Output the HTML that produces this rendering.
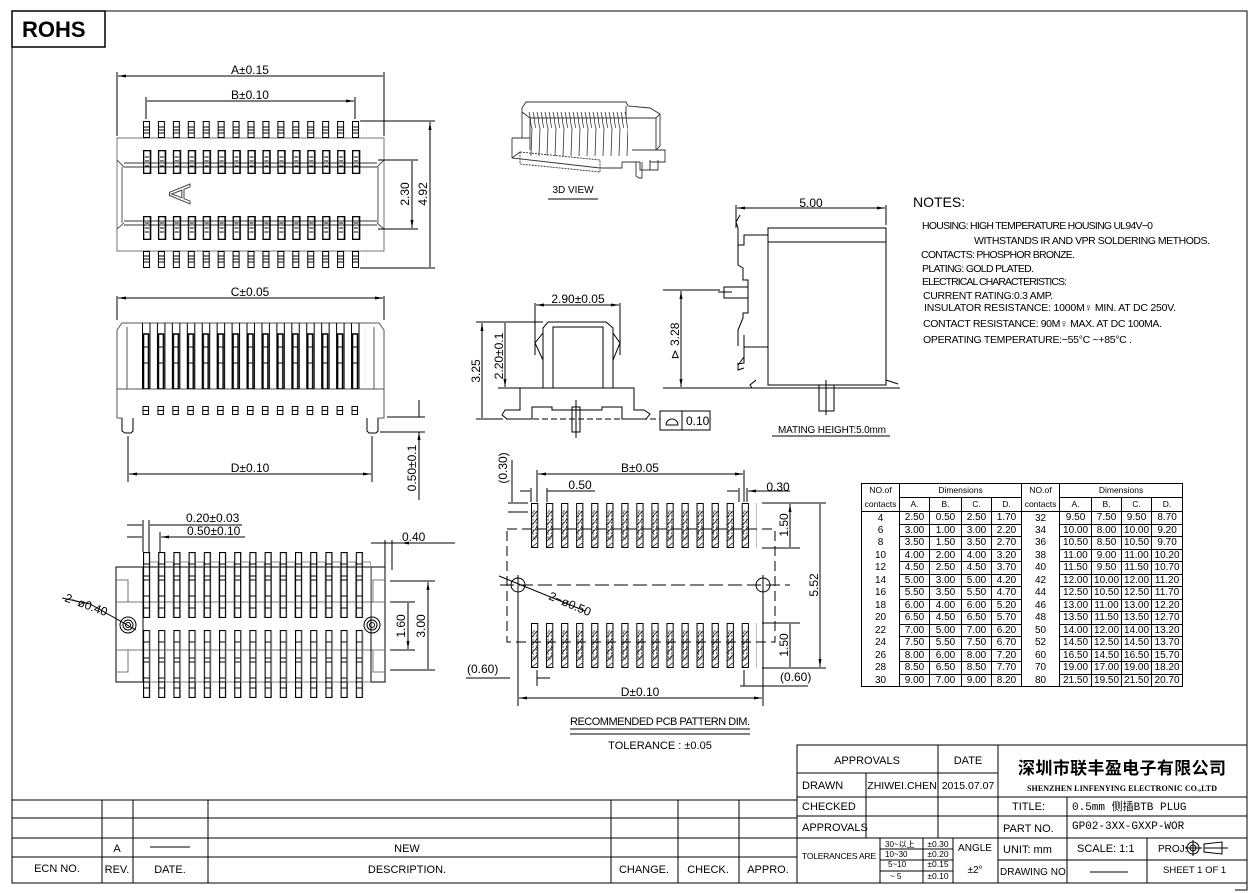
<!DOCTYPE html>
<html><head><meta charset="utf-8">
<style>
html,body{margin:0;padding:0;background:#fff;}
body{width:1253px;height:893px;position:relative;overflow:hidden;font-family:"Liberation Sans","Noto Sans CJK SC",sans-serif;}
svg{position:absolute;left:0;top:0;}
svg text{font-family:"Liberation Sans","Noto Sans CJK SC",sans-serif;fill:#000;}
table.dim{position:absolute;left:861px;top:483px;width:321px;border-collapse:collapse;table-layout:fixed;font-size:10px;font-family:"Liberation Sans",sans-serif;}
table.dim td{border:1px solid #000;padding:0;text-align:center;height:11.5px;line-height:11px;}
table.dim td.n{border-top:none;border-bottom:none;}
table.dim tr.h td{height:13px;font-size:8.5px;}
</style></head><body>
<svg width="1253" height="893" viewBox="0 0 1253 893" xmlns="http://www.w3.org/2000/svg" stroke-width="1">
<defs>
<pattern id="pA" x="143" y="121" width="14.93" height="17" patternUnits="userSpaceOnUse">
<rect x="0.5" y="0.5" width="6" height="16" fill="none" stroke="#000"/><path d="M1 6H6M1 9H6M1 12H6" stroke="#000"/></pattern>
<pattern id="pA2" x="143" y="251" width="14.93" height="17" patternUnits="userSpaceOnUse">
<rect x="0.5" y="0.5" width="6" height="16" fill="none" stroke="#000"/><path d="M1 5H6M1 8H6M1 11H6" stroke="#000"/></pattern>
<pattern id="pB" x="143" y="150" width="14.93" height="24" patternUnits="userSpaceOnUse">
<rect x="0.5" y="0.5" width="7" height="23" fill="none" stroke="#000" stroke-width="1.6"/><path d="M2 7H6M2 11H6M2 16H6" stroke="#000"/></pattern>
<pattern id="pB2" x="143" y="216" width="14.93" height="24" patternUnits="userSpaceOnUse">
<rect x="0.5" y="0.5" width="7" height="23" fill="none" stroke="#000" stroke-width="1.6"/><path d="M2 7H6M2 12H6M2 16H6" stroke="#000"/></pattern>
<pattern id="pC" x="142" y="323" width="14.93" height="66" patternUnits="userSpaceOnUse">
<path d="M0.5 0V66M8 0V66" stroke="#000"/><rect x="1.5" y="11" width="5" height="55" fill="none" stroke="#000" stroke-width="1.5"/><path d="M2 24H6M2 40H6" stroke="#000"/></pattern>
<pattern id="pD" x="142" y="406" width="14.93" height="10" patternUnits="userSpaceOnUse">
<rect x="1" y="0.5" width="5.5" height="8" fill="none" stroke="#000"/><path d="M1 4.5H7" stroke="#000"/></pattern>
<pattern id="pE" x="143" y="552" width="15.2" height="66" patternUnits="userSpaceOnUse">
<rect x="0.5" y="0.5" width="6" height="65" fill="none" stroke="#000" stroke-width="1.2"/><path d="M1 12H6M1 24H6M1 28H6M1 44H6M1 56H6" stroke="#000"/><path d="M7 10H15V66" fill="none" stroke="#888"/></pattern>
<pattern id="pE2" x="143" y="630" width="15.2" height="68" patternUnits="userSpaceOnUse">
<rect x="0.5" y="0.5" width="6" height="67" fill="none" stroke="#000" stroke-width="1.2"/><path d="M1 12H6M1 28H6M1 32H6M1 48H6M1 58H6" stroke="#000"/><path d="M7 0V52H15" fill="none" stroke="#888"/></pattern>
<pattern id="pF" x="531" y="503" width="15.05" height="45" patternUnits="userSpaceOnUse">
<rect x="0.5" y="0.5" width="6.2" height="44" fill="none" stroke="#000"/><rect x="2" y="8" width="3.2" height="28" fill="none" stroke="#000" stroke-dasharray="2,1.5" stroke-width=".7"/><path d="M1 14L6 8M1 22L6 16M1 30L6 24M1 38L6 32M1 44L6 40" stroke="#000" stroke-width=".7"/></pattern>
<pattern id="pF2" x="531" y="623" width="15.05" height="45" patternUnits="userSpaceOnUse">
<rect x="0.5" y="0.5" width="6.2" height="44" fill="none" stroke="#000"/><rect x="2" y="8" width="3.2" height="28" fill="none" stroke="#000" stroke-dasharray="2,1.5" stroke-width=".7"/><path d="M1 14L6 8M1 22L6 16M1 30L6 24M1 38L6 32M1 44L6 40" stroke="#000" stroke-width=".7"/></pattern>
<pattern id="p3d" x="528" y="110" width="8" height="50" patternUnits="userSpaceOnUse">
<path d="M1 2C3 8 2 14 4 18L3 46M5 2C7 8 6 14 8 18" fill="none" stroke="#333" stroke-width=".8"/></pattern>
<marker id="ar" markerWidth="8" markerHeight="6" refX="8" refY="3" orient="auto-start-reverse" markerUnits="userSpaceOnUse"><path d="M0 1.5L8 3L0 4.5z" fill="#000"/></marker>
</defs>
<g fill="none" stroke="#000">
<path d="M12 11H1247V883H12z"/>
<rect x="12" y="11" width="93" height="36" stroke-width="1.5"/>
<path d="M1235 890H1247V878" stroke-width="1"/>

<!-- TOP VIEW -->
<rect x="117" y="138" width="267" height="113" stroke="#777"/>
<path d="M122 167V223M378 167V223M117 160L124 167M384 160L377 167M117 229L124 223M384 229L377 223" stroke="#555"/>
<path d="M124 163H377M124 167H377M124 221H377M124 225H377" stroke="#333"/>
<rect x="143" y="121" width="224" height="17" fill="url(#pA)" stroke="none"/>
<rect x="143" y="251" width="224" height="17" fill="url(#pA2)" stroke="none"/>
<rect x="143" y="150" width="224" height="24" fill="url(#pB)" stroke="none"/>
<rect x="143" y="216" width="224" height="24" fill="url(#pB2)" stroke="none"/>
<path d="M117 72V136M384 72V136M146 97V119M355 97V119"/>
<path d="M118 76H383M147 101H354" marker-start="url(#ar)" marker-end="url(#ar)"/>
<path d="M360 121H435M360 268H435M378 160H418M378 229H418"/>
<path d="M430 122V267M412 161V228" marker-start="url(#ar)" marker-end="url(#ar)"/>

<!-- FRONT VIEW -->
<path d="M117 296V320M384 296V320"/>
<path d="M118 298H383" marker-start="url(#ar)" marker-end="url(#ar)"/>
<path d="M117 418V330L122 323H379L384 330V418H378M117 418H122M117 389H384M127 327V389M374 327V389" stroke="#555"/>
<rect x="142" y="323" width="224" height="66" fill="url(#pC)" stroke="none"/>
<rect x="142" y="406" width="224" height="10" fill="url(#pD)" stroke="none"/>
<path d="M122 418V431L125 433H131L133 431V418M367 418V431L369 433H376L378 431V418"/>
<path d="M128 436V482M372 436V482"/>
<path d="M129 474H371" marker-start="url(#ar)" marker-end="url(#ar)"/>
<path d="M387 417H425M380 432H425M419 400V415M419 500V434" />
<path d="M419 405V417M419 444V432" marker-end="url(#ar)"/>

<!-- BOTTOM VIEW -->
<rect x="116" y="567" width="269" height="115"/>
<path d="M116 580H128V602M116 672H128V650M385 580H373V602M385 672H373V650M116 602H385M116 650H385" stroke="#777"/>
<path d="M143 567V682M371 567V682"/>
<rect x="143" y="552" width="228" height="66" fill="url(#pE)" stroke="none"/>
<rect x="143" y="630" width="228" height="68" fill="url(#pE2)" stroke="none"/>
<circle cx="128" cy="625" r="8"/><circle cx="128" cy="625" r="5"/><circle cx="128" cy="625" r="2.5"/>
<circle cx="372" cy="625" r="8"/><circle cx="372" cy="625" r="5"/><circle cx="372" cy="625" r="2.5"/>
<path d="M62 598L90 604L136 630"/>
<path d="M143 520V552M149 520V552M143 532V552M160 532V552"/>
<path d="M127 525H142M164 525H150M127 537H142M175 537H161"  marker-end="url(#ar)"/>
<path d="M150 525H242M161 537H245"/>
<path d="M371 543H384M432 543H401" marker-end="url(#ar)"/>
<path d="M384 543H455M385 540V570M392 540V570"/>
<path d="M390 581H435M390 602H415M390 650H415M390 670H435"/>
<path d="M428 582V669M408 603V649" marker-start="url(#ar)" marker-end="url(#ar)"/>

<!-- SIDE VIEW (middle) -->
<path d="M535 303V355M620 303V355"/>
<path d="M536 305H619" marker-start="url(#ar)" marker-end="url(#ar)"/>
<path d="M543 388V328L548 322H606L613 328V388M553 388V327H603V388M543 333L535 343L543 360V388M613 333L620 343L613 360V388"/>
<path d="M520 388V410H505L502 415L507 419H532V407H552V410H602V407H622V419H646L650 414L644 410H634V388Z"/>
<path d="M520 388H543M613 388H634"/>
<rect x="572" y="407" width="8" height="25"/><path d="M576 400V438"/>
<path d="M497 419H660" stroke-dasharray="6,3"/>
<rect x="660" y="411" width="50" height="19"/><path d="M682 411V430M666 425H678M666 425A6 6 0 0 1 678 425"/>
<path d="M476 322H543M498 388H520M476 419H497"/>
<path d="M482 323V418M505 323V387" marker-start="url(#ar)" marker-end="url(#ar)"/>

<!-- RIGHT SIDE VIEW -->
<path d="M736 205V228M886 205V225"/>
<path d="M737 208H885" marker-start="url(#ar)" marker-end="url(#ar)"/>
<rect x="768" y="228" width="118" height="157"/>
<path d="M768 242H886"/>
<path d="M768 235H744V245H738V228L736 222L740 215M738 245V265L743 268V280H748V313H743V318L738 330V346M768 347H744V357L738 365V363M744 357V363L738 364L738 370L744 368M744 335V347"/>
<rect x="724" y="287" width="24" height="11"/><path d="M748 282V300M718 292H732"/>
<path d="M720 388H900M756 380L750 385L752 388M886 380L898 384"/>
<rect x="819" y="385" width="15" height="26"/><path d="M826 380V415"/>
<path d="M663 290H720M663 388H720"/>
<path d="M681 291V387" marker-start="url(#ar)" marker-end="url(#ar)"/>
<path d="M772 436H890"/>

<!-- 3D VIEW -->
<g stroke="#333" stroke-width="0.9">
<path d="M522 108L526 102H626L628 106L650 108L660 114L656 118H530L522 112Z"/>
<path d="M522 112V138M530 118V150M626 106V118M656 118V150H632M660 114V146L656 150"/>
<rect x="528" y="112" width="100" height="44" fill="url(#p3d)" stroke="none"/>
<path d="M512 138H530M632 150H665V162H650V170H640V162H622M512 138V158L600 168H622V162M512 158L520 152"/>
<path d="M520 152L600 160V172L520 164Z" stroke-dasharray="2,1"/>
<path d="M636 162V176L639 178H642V162M650 160V170H658V160"/>
</g>
<path d="M548 199H598"/>

<!-- PCB PATTERN -->
<rect x="507" y="529" width="268" height="113" stroke-dasharray="10,5"/>
<path d="M500 585H790" stroke-dasharray="14,5"/>
<rect x="531" y="503" width="226" height="45" fill="url(#pF)" stroke="none"/>
<rect x="531" y="623" width="226" height="45" fill="url(#pF2)" stroke="none"/>
<circle cx="518" cy="585" r="7"/><circle cx="763" cy="585" r="7"/>
<path d="M518 575V706M763 575V706M499 576L585 611"/>
<path d="M537 470V502M744 470V502M531 488V502M547 488V502M739 488V502M747 488V502"/>
<path d="M538 474H743" marker-start="url(#ar)" marker-end="url(#ar)"/>
<path d="M520 491H530M564 491H548M727 491H738M760 491H748" marker-end="url(#ar)"/>
<path d="M547 491H595M748 491H790"/>
<path d="M508 503H528M508 512H528M512 460V502"/>
<path d="M762 503H826M762 548H800M762 623H800M762 668H826"/>
<path d="M790 504V547M790 624V667M820 504V667" marker-start="url(#ar)" marker-end="url(#ar)"/>
<path d="M466 678H510M537 678H550M537 670V686M744 670V686M740 686H760M808 686H744" />
<path d="M519 698H762" marker-start="url(#ar)" marker-end="url(#ar)"/>
<path d="M570 729H750M570 734H750"/>

<!-- TITLE BLOCK -->
<path d="M797 745H1247V883H797ZM797 773H998M797 797H1247M797 816H1247M797 838H1247M998 860H1247M938 745V838M866 773V838M998 745V883M1067 797V883M1147 838V883M880 838V883M923 838V883M953 838V883M880 849H953M880 860H953M880 871H953"/>
<path d="M1090 872H1128"/>
<circle cx="1193" cy="848" r="6"/><circle cx="1193" cy="848" r="3"/><path d="M1185 848H1202M1193 840V856M1204 844L1222 842V854L1204 852ZM1204 848H1228"/>

<!-- REVISION BLOCK -->
<path d="M12 800H797M12 818H797M12 838H797M12 857H797M102 800V883M133 800V883M208 800V883M611 800V883M678 800V883M739 800V883M150 847H190"/>
</g>

<!-- TEXT -->
<g font-size="12">
<text x="22" y="37" font-size="22" font-weight="bold">ROHS</text>
<text transform="translate(190 194) rotate(-90)" text-anchor="middle" font-size="30" style="fill:none;stroke:#444;stroke-width:1">A</text>
<text x="250" y="74" text-anchor="middle">A±0.15</text>
<text x="250" y="99" text-anchor="middle">B±0.10</text>
<text transform="translate(409 194) rotate(-90)" text-anchor="middle">2.30</text>
<text transform="translate(427 194) rotate(-90)" text-anchor="middle">4.92</text>
<text x="250" y="296" text-anchor="middle">C±0.05</text>
<text x="250" y="472" text-anchor="middle">D±0.10</text>
<text transform="translate(416 468) rotate(-90)" text-anchor="middle">0.50±0.1</text>
<text x="186" y="522">0.20±0.03</text>
<text x="187" y="535">0.50±0.10</text>
<text x="402" y="541">0.40</text>
<text transform="translate(405 626) rotate(-90)" text-anchor="middle">1.60</text>
<text transform="translate(425 626) rotate(-90)" text-anchor="middle">3.00</text>
<text transform="translate(64 601) rotate(20)">2−ø0.40</text>
<text x="578" y="303" text-anchor="middle">2.90±0.05</text>
<text transform="translate(480 371) rotate(-90)" text-anchor="middle">3.25</text>
<text transform="translate(503 356) rotate(-90)" text-anchor="middle">2.20±0.1</text>
<text x="686" y="425">0.10</text>
<text x="811" y="207" text-anchor="middle">5.00</text>
<text transform="translate(679 341) rotate(-90)" text-anchor="middle">⊳ 3.28</text>
<text x="778" y="433" font-size="10" textLength="108">MATING  HEIGHT:5.0mm</text>
<text x="573" y="193" font-size="10" text-anchor="middle">3D   VIEW</text>
<text x="640" y="472" text-anchor="middle">B±0.05</text>
<text x="580" y="489" text-anchor="middle">0.50</text>
<text x="778" y="491" text-anchor="middle">0.30</text>
<text transform="translate(507 468) rotate(-90)" text-anchor="middle">(0.30)</text>
<text transform="translate(788 525) rotate(-90)" text-anchor="middle">1.50</text>
<text transform="translate(788 645) rotate(-90)" text-anchor="middle">1.50</text>
<text transform="translate(818 585) rotate(-90)" text-anchor="middle">5.52</text>
<text transform="translate(548 599) rotate(23)">2−ø0.50</text>
<text x="467" y="673">(0.60)</text>
<text x="780" y="681">(0.60)</text>
<text x="640" y="696" text-anchor="middle">D±0.10</text>
<text x="660" y="725" font-size="11" text-anchor="middle" textLength="180">RECOMMENDED  PCB  PATTERN  DIM.</text>
<text x="660" y="749" font-size="11" text-anchor="middle">TOLERANCE  :  ±0.05</text>
</g>
<g font-size="10.5">
<text x="913" y="207" font-size="14">NOTES:</text>
<text x="922" y="229" textLength="231">HOUSING: HIGH TEMPERATURE HOUSING UL94V−0</text>
<text x="974" y="244" textLength="236">WITHSTANDS IR AND VPR SOLDERING METHODS.</text>
<text x="921" y="258" textLength="154">CONTACTS: PHOSPHOR BRONZE.</text>
<text x="922" y="272" textLength="112">PLATING: GOLD PLATED.</text>
<text x="922" y="285" textLength="145">ELECTRICAL CHARACTERISTICS:</text>
<text x="923" y="299" textLength="130">CURRENT RATING:0.3 AMP.</text>
<text x="924" y="311" textLength="252">INSULATOR RESISTANCE: 1000M♀ MIN. AT DC 250V.</text>
<text x="923" y="327" textLength="239">CONTACT RESISTANCE: 90M♀ MAX. AT DC 100MA.</text>
<text x="923" y="343" textLength="209">OPERATING TEMPERATURE:−55°C ~+85°C .</text>
</g>
<g font-size="11">
<text x="867" y="764" text-anchor="middle">APPROVALS</text>
<text x="968" y="764" text-anchor="middle">DATE</text>
<text x="802" y="789">DRAWN</text>
<text x="902" y="789" text-anchor="middle" font-size="10.5">ZHIWEI.CHEN</text>
<text x="968" y="789" text-anchor="middle" font-size="10.5">2015.07.07</text>
<text x="802" y="810">CHECKED</text>
<text x="802" y="831">APPROVALS</text>
<text x="802" y="859" font-size="8.5" textLength="74">TOLERANCES  ARE</text>
<text x="885" y="847" font-size="8">30~以上</text><text x="938" y="847" font-size="8.5" text-anchor="middle">±0.30</text>
<text x="885" y="857" font-size="8">10~30</text><text x="938" y="857" font-size="8.5" text-anchor="middle">±0.20</text>
<text x="888" y="867" font-size="8">5~10</text><text x="938" y="867" font-size="8.5" text-anchor="middle">±0.15</text>
<text x="890" y="879" font-size="8">~ 5</text><text x="938" y="879" font-size="8.5" text-anchor="middle">±0.10</text>
<text x="975" y="851" text-anchor="middle" font-size="10">ANGLE</text>
<text x="975" y="873" text-anchor="middle" font-size="10">±2°</text>
<text x="1122" y="774" text-anchor="middle" font-size="17" font-weight="bold" textLength="208">深圳市联丰盈电子有限公司</text>
<text x="1122" y="791" text-anchor="middle" font-size="8" font-weight="bold" style="font-family:'Liberation Serif',serif" textLength="190">SHENZHEN LINFENYING ELECTRONIC CO.,LTD</text>
<text x="1012" y="810">TITLE:</text>
<text x="1072" y="810" style="font-family:'Liberation Mono','Noto Sans CJK SC',monospace" font-size="11">0.5mm 侧插BTB PLUG</text>
<text x="1003" y="832">PART  NO.</text>
<text x="1072" y="829" style="font-family:'Liberation Mono',monospace" font-size="11">GP02-3XX-GXXP-WOR</text>
<text x="1003" y="853">UNIT:  mm</text>
<text x="1077" y="852">SCALE:    1:1</text>
<text x="1158" y="852" font-size="10">PROJ:</text>
<text x="1000" y="875" font-size="10">DRAWING  NO.</text>
<text x="1163" y="873" font-size="9.5">SHEET    1  OF  1</text>
<text x="117" y="852" text-anchor="middle">A</text>
<text x="407" y="852" text-anchor="middle">NEW</text>
<text x="57" y="872" text-anchor="middle">ECN  NO.</text>
<text x="117" y="873" text-anchor="middle">REV.</text>
<text x="170" y="873" text-anchor="middle">DATE.</text>
<text x="407" y="873" text-anchor="middle">DESCRIPTION.</text>
<text x="644" y="873" text-anchor="middle">CHANGE.</text>
<text x="708" y="873" text-anchor="middle">CHECK.</text>
<text x="768" y="873" text-anchor="middle">APPRO.</text>
</g>
</svg>

<table class="dim">
<colgroup><col style="width:38px"><col style="width:30px"><col style="width:32px"><col style="width:30px"><col style="width:30px"><col style="width:38px"><col style="width:32px"><col style="width:30px"><col style="width:30px"><col style="width:31px"></colgroup>
<tr class="h"><td style="border-bottom:none">NO.of</td><td colspan="4">Dimensions</td><td style="border-bottom:none">NO.of</td><td colspan="4">Dimensions</td></tr>
<tr class="h"><td style="border-top:none">contacts</td><td>A.</td><td>B.</td><td>C.</td><td>D.</td><td style="border-top:none">contacts</td><td>A.</td><td>B.</td><td>C.</td><td>D.</td></tr>
<tr><td class="n">4</td><td>2.50</td><td>0.50</td><td>2.50</td><td>1.70</td><td class="n">32</td><td>9.50</td><td>7.50</td><td>9.50</td><td>8.70</td></tr>
<tr><td class="n">6</td><td>3.00</td><td>1.00</td><td>3.00</td><td>2.20</td><td class="n">34</td><td>10.00</td><td>8.00</td><td>10.00</td><td>9.20</td></tr>
<tr><td class="n">8</td><td>3.50</td><td>1.50</td><td>3.50</td><td>2.70</td><td class="n">36</td><td>10.50</td><td>8.50</td><td>10.50</td><td>9.70</td></tr>
<tr><td class="n">10</td><td>4.00</td><td>2.00</td><td>4.00</td><td>3.20</td><td class="n">38</td><td>11.00</td><td>9.00</td><td>11.00</td><td>10.20</td></tr>
<tr><td class="n">12</td><td>4.50</td><td>2.50</td><td>4.50</td><td>3.70</td><td class="n">40</td><td>11.50</td><td>9.50</td><td>11.50</td><td>10.70</td></tr>
<tr><td class="n">14</td><td>5.00</td><td>3.00</td><td>5.00</td><td>4.20</td><td class="n">42</td><td>12.00</td><td>10.00</td><td>12.00</td><td>11.20</td></tr>
<tr><td class="n">16</td><td>5.50</td><td>3.50</td><td>5.50</td><td>4.70</td><td class="n">44</td><td>12.50</td><td>10.50</td><td>12.50</td><td>11.70</td></tr>
<tr><td class="n">18</td><td>6.00</td><td>4.00</td><td>6.00</td><td>5.20</td><td class="n">46</td><td>13.00</td><td>11.00</td><td>13.00</td><td>12.20</td></tr>
<tr><td class="n">20</td><td>6.50</td><td>4.50</td><td>6.50</td><td>5.70</td><td class="n">48</td><td>13.50</td><td>11.50</td><td>13.50</td><td>12.70</td></tr>
<tr><td class="n">22</td><td>7.00</td><td>5.00</td><td>7.00</td><td>6.20</td><td class="n">50</td><td>14.00</td><td>12.00</td><td>14.00</td><td>13.20</td></tr>
<tr><td class="n">24</td><td>7.50</td><td>5.50</td><td>7.50</td><td>6.70</td><td class="n">52</td><td>14.50</td><td>12.50</td><td>14.50</td><td>13.70</td></tr>
<tr><td class="n">26</td><td>8.00</td><td>6.00</td><td>8.00</td><td>7.20</td><td class="n">60</td><td>16.50</td><td>14.50</td><td>16.50</td><td>15.70</td></tr>
<tr><td class="n">28</td><td>8.50</td><td>6.50</td><td>8.50</td><td>7.70</td><td class="n">70</td><td>19.00</td><td>17.00</td><td>19.00</td><td>18.20</td></tr>
<tr><td class="n" style="border-bottom:1px solid #000">30</td><td>9.00</td><td>7.00</td><td>9.00</td><td>8.20</td><td class="n" style="border-bottom:1px solid #000">80</td><td>21.50</td><td>19.50</td><td>21.50</td><td>20.70</td></tr>
</table>
</body></html>
